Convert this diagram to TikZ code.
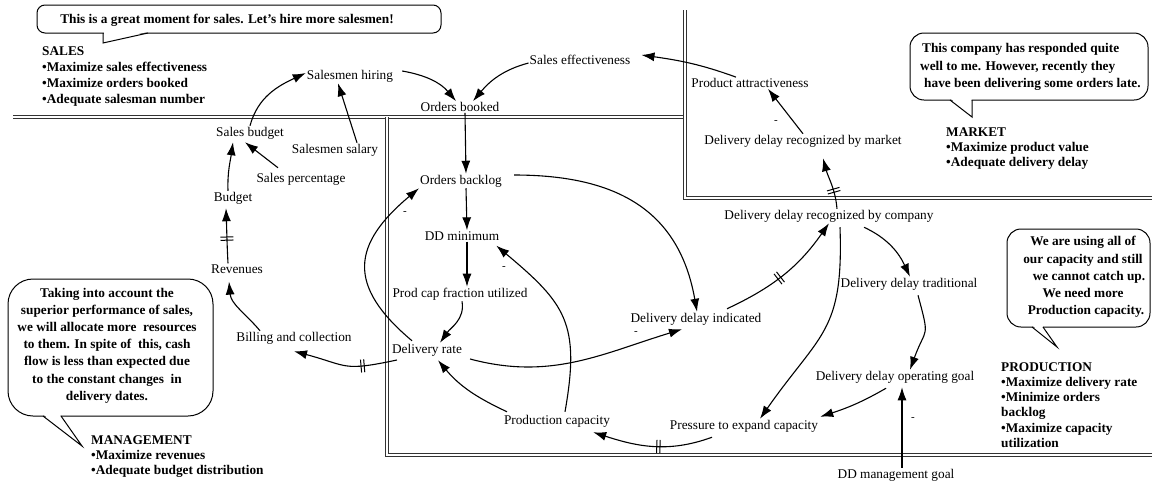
\documentclass[tikz,border=0pt]{standalone}
\usepackage{fontspec}
\setmainfont{Liberation Serif}
\usetikzlibrary{arrows.meta,decorations.markings}
\begin{document}
\begin{tikzpicture}[x=1pt,y=1pt,
  lbl/.style={font=\fontsize{13.3}{16}\selectfont, inner sep=1pt},
  bld/.style={font=\fontsize{13.3}{15.4}\selectfont\bfseries, inner sep=0pt, align=left},
  bub/.style={font=\fontsize{13.3}{17.2}\selectfont\bfseries, inner sep=0pt},
  arr/.style={-{Latex[length=13pt,width=9pt]}, line width=1.1pt},
  wall/.style={double, double distance=1.6pt, line width=0.9pt, draw=black!80},
  bubble/.style={line width=1pt},
  minus/.style={font=\fontsize{11}{12}\selectfont, inner sep=0pt},
  hash/.style={postaction={decorate, decoration={markings, mark=at position #1 with {\draw[line width=1pt, arrows=-] (-1.6pt,-6.5pt)--(-1.6pt,6.5pt) (1.6pt,-6.5pt)--(1.6pt,6.5pt);}}}}
]
\useasboundingbox (0,0) rectangle (1152,-483);
\fill[white] (0,0) rectangle (1152,-483);

% walls
\draw[wall] (13,-117) -- (686,-117);
\draw[wall] (387,-117) -- (387,-455) -- (1152,-455);
\draw[wall] (685,-10) -- (685,-198) -- (1152,-198);

% bubbles
\draw[bubble, rounded corners=8pt] (37,-5) rectangle (441,-33);
\fill[white] (104,-32) -- (104,-42) -- (147,-32) -- cycle;
\draw[bubble] (103,-33) -- (103,-43) -- (148,-33);
\node[bub] (salesbub) at (227,-20) {This is a great moment for sales. Let’s hire more salesmen!};

\draw[bubble, rounded corners=14pt] (910,-33) rectangle (1148,-100);
\fill[white] (951,-99) -- (971.5,-115) -- (971.5,-99) -- cycle;
\draw[bubble] (950,-100) -- (972,-117) -- (972,-100);
\node[bub, align=left, anchor=west] (marketbub) at (920,-67) {\hspace*{2pt}This company has responded quite\\well to me. However, recently they\\\hspace*{4pt}have been delivering some orders late.};

\draw[bubble, rounded corners=14pt] (1007,-229) rectangle (1150,-327);
\fill[white] (1033,-326) -- (1055,-345) -- (1042.5,-326) -- cycle;
\draw[bubble] (1032,-327) -- (1057,-347) -- (1043,-327);
\node[bub, align=center] (prodbub) at (1083,-277) {We are using all of\\our capacity and still\\\hspace*{12pt}we cannot catch up.\\We need more\hspace*{10pt}\\\hspace*{6pt}Production capacity.};

\draw[bubble, rounded corners=25pt] (8,-279) rectangle (213,-416);
\fill[white] (44,-415) -- (81,-444) -- (60,-415) -- cycle;
\draw[bubble] (43,-416) -- (82,-446) -- (61,-416);
\node[bub, align=center] (mgmtbub) at (107,-345.5) {Taking into account the\\superior performance of sales,\\we will allocate more\ \ resources\\to them. In spite of\ \ this, cash\\flow is less than expected due\\to the constant changes\ \ in\\delivery dates.};

% goal lists
\node[bld, anchor=west, font=\fontsize{13.3}{16}\selectfont\bfseries] (saleslist) at (42,-77) {SALES\\•Maximize sales effectiveness\\•Maximize orders booked\\•Adequate salesman number};
\node[bld, anchor=west] (marketlist) at (946,-148.5) {MARKET\\•Maximize product value\\•Adequate delivery delay};
\node[bld, anchor=west, font=\fontsize{13.3}{15.2}\selectfont\bfseries] (prodlist) at (1001,-405) {PRODUCTION\\•Maximize delivery rate\\•Minimize orders\\backlog\\•Maximize capacity\\utilization};
\node[bld, anchor=west, font=\fontsize{13.3}{15}\selectfont\bfseries] (mgmtlist) at (91,-457) {MANAGEMENT\\•Maximize revenues\\•Adequate budget distribution};

% variables
\node[lbl] (sh) at (350,-76) {Salesmen hiring};
\node[lbl] (ob) at (460,-107) {Orders booked};
\node[lbl] (se) at (580,-60) {Sales effectiveness};
\node[lbl] (pa) at (750,-83) {Product attractiveness};
\node[lbl] (ddm) at (803,-141) {Delivery delay recognized by market};
\node[lbl] (sb) at (250,-133) {Sales budget};
\node[lbl] (ss) at (335,-150) {Salesmen salary};
\node[lbl] (sp) at (301,-179) {Sales percentage};
\node[lbl] (bud) at (233,-198) {Budget};
\node[lbl] (rev) at (237,-269) {Revenues};
\node[lbl] (bc) at (294,-338) {Billing and collection};
\node[lbl] (obl) at (461,-181) {Orders backlog};
\node[lbl] (ddmin) at (462,-236) {DD minimum};
\node[lbl] (pcf) at (460,-294) {Prod cap fraction utilized};
\node[lbl] (ddi) at (696,-319) {Delivery delay indicated};
\node[lbl] (dr) at (427,-350) {Delivery rate};
\node[lbl] (pc) at (557,-421) {Production capacity};
\node[lbl] (pe) at (744,-426) {Pressure to expand capacity};
\node[lbl] (ddc) at (829,-216) {Delivery delay recognized by company};
\node[lbl] (ddt) at (909,-284) {Delivery delay traditional};
\node[lbl] (ddo) at (895,-377) {Delivery delay operating goal};
\node[lbl] (ddg) at (896,-475) {DD management goal};

% minus signs
\node[minus] (m1) at (776,-122) {-};
\node[minus] (m2) at (405,-213) {-};
\node[minus] (m3) at (504,-268) {-};
\node[minus] (m4) at (636,-333) {-};
\node[minus] (m5) at (913,-419) {-};

% connectors
\draw[arr] (sb.north) to[out=75,in=205] ([yshift=3pt]sh.west);
\draw[arr] ([xshift=22pt]ss.north) -- ([xshift=-12pt]sh.south);
\draw[arr] ([xshift=8pt,yshift=5pt]sh.east) to[out=-10,in=130] ([xshift=-4pt]ob.north);
\draw[arr] ([yshift=-3pt]se.west) to[out=195,in=50] ([xshift=13pt]ob.north);
\draw[arr] ([xshift=-14pt]pa.north) to[out=160,in=-8] ([xshift=10pt,yshift=5pt]se.east);
\draw[arr] (ddm.north) -- ([xshift=18pt]pa.south);
\draw[arr,hash=0.35] ([xshift=8pt]ddc.north) to[out=95,in=-75] ([xshift=20pt,yshift=-10pt]ddm.south);
\draw[arr] ([xshift=5pt]ob.south) -- ([xshift=5pt]obl.north);
\draw[arr] ([xshift=5pt]obl.south) -- ([xshift=5pt]ddmin.north);
\draw[arr] ([xshift=5pt]ddmin.south) -- ([xshift=7pt]pcf.north);
\draw[arr] ([xshift=2pt]pcf.south) to[out=-80,in=55] ([xshift=13pt]dr.north);
\draw[arr] ([xshift=11pt,yshift=6pt]obl.east) to[out=0,in=100,looseness=1.15] ([xshift=1pt]ddi.north);
\draw[arr] ([xshift=7pt,yshift=-9pt]dr.east) to[out=-15,in=197] ([xshift=-14pt,yshift=-3pt]ddi.south);
\draw[arr,hash=0.45] ([xshift=31pt,yshift=3pt]ddi.north) to[out=25,in=-125] (ddc.south);
\draw[arr,hash=0.33] ([xshift=6pt,yshift=-10pt]dr.west) to[out=192,in=-15,looseness=1.4] ([yshift=-6pt]bc.south);
\draw[arr] ([xshift=-34pt]bc.north) to[out=130,in=-85] ([xshift=-8pt,yshift=-7pt]rev.south);
\draw[arr,hash=0.45] ([xshift=-9pt]rev.north) to[out=93,in=-88] ([xshift=-7pt,yshift=-3pt]bud.south);
\draw[arr] ([xshift=-5pt]bud.north) to[out=92,in=-98] ([xshift=-17pt,yshift=-2pt]sb.south);
\draw[arr] ([xshift=-23pt,yshift=4pt]sp.north) -- ([xshift=-5pt,yshift=-2pt]sb.south);
\draw[arr] ([xshift=-15pt,yshift=2pt]dr.north) to[out=140,in=220,looseness=1.45] (obl.south west);
\draw[arr] ([xshift=-50pt,yshift=2pt]pc.north) to[out=155,in=-50] ([xshift=11pt,yshift=-3pt]dr.south);
\draw[arr] ([xshift=8pt,yshift=2pt]pc.north) to[out=80,in=-40,out distance=90pt,in distance=90pt] ([xshift=-4pt,yshift=-4pt]ddmin.south east);
\draw[arr,hash=0.45] ([xshift=-32pt,yshift=-4pt]pe.south) to[out=200,in=-18] ([xshift=-18pt,yshift=-4pt]pc.south east);
\draw[arr] ([xshift=11pt,yshift=-4pt]ddc.south) to[out=-88,in=55,looseness=1.3] ([xshift=16pt]pe.north);
\draw[arr] ([xshift=35pt,yshift=-4pt]ddc.south) to[out=-25,in=115] ([xshift=1pt]ddt.north);
\draw[arr] ([xshift=9pt,yshift=-4pt]ddt.south) to[out=-75,in=70,looseness=1.6] ([xshift=15pt]ddo.north);
\draw[arr] ([xshift=-9pt,yshift=-4pt]ddo.south) to[out=-150,in=18] ([xshift=1pt,yshift=2pt]pe.north east);
\draw[arr] ([xshift=6pt]ddg.north) -- ([xshift=7pt,yshift=-3pt]ddo.south);
\end{tikzpicture}
\end{document}
